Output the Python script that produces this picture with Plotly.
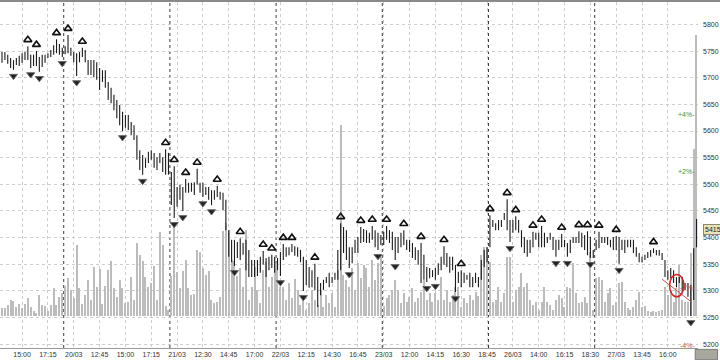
import plotly.graph_objects as go

# ---------------- data ----------------
tick_bars = [7, 16, 25, 34, 43, 52, 61, 70, 79, 88, 97, 106, 115, 124, 133, 142,
             151, 160, 169, 178, 187, 196, 205, 214, 223, 232]
tick_labels = ["15:00", "17:15", "20/03", "12:45", "15:00", "17:15", "21/03", "12:30",
               "14:45", "17:00", "22/03", "12:15", "14:30", "16:45", "23/03", "12:00",
               "14:15", "16:30", "18:45", "26/03", "14:00", "16:15", "18:30", "27/03",
               "13:45", "16:00"]
day_breaks = [21.5, 58.5, 95.5, 132.5, 169.5, 206.5]

highs = [5748, 5748, 5743, 5737, 5733, 5737, 5741, 5746, 5748, 5759,
         5743, 5743, 5750, 5739, 5743, 5743, 5746, 5752, 5761, 5772,
         5763, 5756, 5759, 5780, 5756, 5748, 5746, 5748, 5756, 5752,
         5733, 5733, 5733, 5729, 5718, 5714, 5714, 5692, 5681, 5668,
         5658, 5649, 5636, 5630, 5630, 5617, 5611, 5592, 5564, 5555,
         5549, 5561, 5564, 5559, 5551, 5559, 5551, 5566, 5559, 5523,
         5534, 5495, 5499, 5495, 5510, 5503, 5503, 5504, 5529, 5503,
         5503, 5495, 5495, 5489, 5489, 5497, 5486, 5484, 5471, 5414,
         5396, 5396, 5392, 5399, 5390, 5396, 5377, 5358, 5358, 5358,
         5364, 5375, 5362, 5364, 5368, 5364, 5362, 5373, 5388, 5382,
         5382, 5388, 5384, 5382, 5377, 5364, 5358, 5345, 5339, 5351,
         5326, 5315, 5321, 5326, 5334, 5326, 5334, 5377, 5427, 5420,
         5414, 5382, 5382, 5396, 5401, 5420, 5416, 5414, 5409, 5422,
         5414, 5409, 5405, 5411, 5422, 5414, 5411, 5401, 5401, 5409,
         5414, 5396, 5396, 5390, 5382, 5377, 5390, 5368, 5345, 5343,
         5339, 5343, 5352, 5364, 5384, 5371, 5364, 5364, 5349, 5336,
         5339, 5334, 5330, 5334, 5326, 5334, 5326, 5358, 5377, 5382,
         5442, 5433, 5427, 5433, 5433, 5446, 5472, 5433, 5433, 5440,
         5433, 5414, 5401, 5396, 5396, 5411, 5409, 5409, 5422, 5409,
         5401, 5409, 5401, 5396, 5396, 5407, 5396, 5390, 5396, 5401,
         5401, 5412, 5409, 5405, 5412, 5401, 5377, 5396, 5411, 5401,
         5401, 5401, 5396, 5401, 5403, 5401, 5396, 5396, 5396, 5396,
         5396, 5382, 5371, 5364, 5368, 5373, 5377, 5380, 5377, 5377,
         5371, 5358, 5339, 5343, 5339, 5326, 5326, 5326, 5315, 5315,
         5311, 5380, 5435]

lows = [5728, 5733, 5726, 5718, 5715, 5724, 5722, 5728, 5733, 5733,
        5718, 5722, 5722, 5711, 5720, 5728, 5737, 5739, 5743, 5746,
        5743, 5739, 5744, 5746, 5741, 5729, 5703, 5729, 5739, 5729,
        5705, 5705, 5701, 5696, 5677, 5692, 5681, 5658, 5652, 5639,
        5624, 5611, 5600, 5606, 5602, 5592, 5583, 5546, 5527, 5518,
        5531, 5540, 5546, 5531, 5527, 5540, 5523, 5518, 5518, 5461,
        5437, 5458, 5471, 5450, 5484, 5484, 5486, 5480, 5499, 5484,
        5476, 5480, 5471, 5461, 5471, 5476, 5471, 5452, 5414, 5364,
        5354, 5347, 5362, 5358, 5368, 5339, 5326, 5326, 5326, 5328,
        5334, 5349, 5326, 5339, 5343, 5334, 5339, 5328, 5358, 5364,
        5367, 5373, 5366, 5364, 5354, 5300, 5311, 5306, 5307, 5302,
        5270, 5292, 5302, 5315, 5307, 5315, 5321, 5321, 5339, 5371,
        5358, 5343, 5352, 5371, 5371, 5390, 5392, 5390, 5390, 5396,
        5382, 5377, 5386, 5386, 5396, 5390, 5377, 5358, 5371, 5382,
        5386, 5377, 5373, 5362, 5358, 5349, 5315, 5321, 5317, 5324,
        5326, 5321, 5330, 5339, 5349, 5345, 5334, 5339, 5298, 5315,
        5307, 5315, 5321, 5307, 5307, 5315, 5307, 5321, 5345, 5354,
        5382, 5420, 5414, 5414, 5420, 5433, 5414, 5392, 5409, 5414,
        5409, 5382, 5371, 5364, 5371, 5382, 5396, 5382, 5382, 5382,
        5390, 5396, 5377, 5364, 5377, 5382, 5382, 5364, 5371, 5390,
        5390, 5390, 5382, 5377, 5367, 5362, 5362, 5377, 5380, 5390,
        5390, 5386, 5382, 5377, 5377, 5351, 5377, 5371, 5382, 5382,
        5371, 5364, 5354, 5354, 5358, 5362, 5364, 5371, 5367, 5366,
        5358, 5326, 5321, 5324, 5315, 5307, 5315, 5296, 5302, 5289,
        5253, 5283, 5382]

volume = [8, 8, 11, 16, 15, 9, 12, 8, 12, 18,
          9, 5, 3, 21, 11, 10, 5, 11, 28, 11,
          19, 23, 30, 38, 26, 18, 71, 28, 12, 21,
          36, 16, 49, 29, 47, 12, 30, 46, 55, 28,
          19, 36, 28, 13, 14, 39, 16, 73, 61, 55,
          39, 29, 33, 50, 16, 84, 71, 10, 6, 40,
          90, 44, 28, 45, 56, 28, 21, 22, 66, 64,
          48, 41, 45, 16, 13, 14, 19, 85, 93, 86,
          56, 55, 40, 48, 29, 86, 16, 29, 49, 26,
          13, 46, 54, 29, 39, 53, 53, 29, 29, 16,
          33, 18, 37, 26, 11, 18, 6, 13, 26, 16,
          11, 26, 9, 21, 13, 23, 9, 46, 191, 41,
          36, 29, 48, 26, 53, 38, 51, 48, 29, 56,
          36, 53, 59, 10, 18, 21, 26, 36, 26, 13,
          23, 14, 19, 28, 14, 18, 24, 36, 16, 23,
          14, 23, 16, 39, 16, 26, 14, 21, 29, 29,
          9, 18, 13, 21, 16, 24, 20, 61, 69, 69,
          54, 14, 16, 29, 14, 23, 59, 59, 14, 26,
          29, 43, 29, 33, 16, 11, 14, 6, 14, 29,
          14, 11, 6, 16, 21, 18, 9, 29, 28, 53,
          23, 13, 14, 19, 13, 64, 6, 38, 39, 36,
          14, 23, 28, 11, 14, 33, 34, 14, 8, 6,
          9, 16, 24, 9, 10, 5, 4, 5, 4, 5,
          6, 29, 21, 26, 14, 28, 51, 16, 14, 14,
          63, 167, 281]

up_fractals = [9, 12, 19, 23, 28, 57, 60, 64, 68, 75, 83, 91, 94, 98, 101, 109, 118,
               125, 129, 134, 140, 146, 154, 160, 170, 176, 179, 185, 188, 195, 201,
               204, 208, 214, 227]
down_fractals = [4, 10, 13, 21, 26, 42, 49, 60, 63, 70, 73, 81, 97, 105, 121, 131, 137,
                 148, 151, 158, 177, 193, 197, 205, 215, 240]

last_price = 5415
pct_levels = [4, 2, -2, -4]
price_ticks = list(range(5200, 5801, 50))

# user drawings (trend line and circle) in bar index / price units
trend_line = dict(x0=230, y0=5322, x1=240.3, y1=5279)
circle = dict(x0=232.6, y0=5289, x1=237.6, y1=5331)

assert len(highs) == len(lows) == len(volume) == 243

idx = list(range(len(highs)))
font = "Liberation Sans, Arial, sans-serif"

fig = go.Figure()
fig.add_trace(go.Bar(x=idx, y=volume, yaxis="y", width=0.4,
                     marker=dict(color="#bcbcbc", line=dict(width=0)),
                     showlegend=False, hoverinfo="skip"))
# high-low bars drawn as 1px vertical ranges
fig.add_trace(go.Scatter(x=idx, y=lows, yaxis="y2", mode="markers", showlegend=False,
                         marker=dict(size=1, color="rgba(0,0,0,0)"),
                         error_y=dict(type="data", symmetric=False,
                                      array=[h - l for h, l in zip(highs, lows)],
                                      arrayminus=[0] * len(lows),
                                      thickness=1.1, width=0, color="#1a1a1a")))
off = 12
fig.add_trace(go.Scatter(x=up_fractals, y=[highs[i] + off for i in up_fractals],
                         yaxis="y2", mode="markers", showlegend=False,
                         marker=dict(symbol="triangle-up-open", size=7, color="#111",
                                     line=dict(width=1.6, color="#111"))))
fig.add_trace(go.Scatter(x=down_fractals, y=[lows[i] - off for i in down_fractals],
                         yaxis="y2", mode="markers", showlegend=False,
                         marker=dict(symbol="triangle-down", size=7, color="#222",
                                     line=dict(width=1, color="#666"))))

shapes = []
for d in day_breaks:
    shapes.append(dict(type="line", xref="x", yref="paper", x0=d, x1=d, y0=0, y1=1,
                       line=dict(color="#3a3a3a", width=1, dash="dot"), layer="below"))
shapes.append(dict(type="line", xref="x", yref="y2", **trend_line,
                   line=dict(color="#d05050", width=1)))
shapes.append(dict(type="circle", xref="x", yref="y2", **circle,
                   line=dict(color="#cc2222", width=1.5)))
# top frame line and bottom-right button
shapes.append(dict(type="rect", xref="paper", yref="paper", x0=0, x1=1.04, y0=1.0, y1=1.006,
                   fillcolor="#8a8a8a", line=dict(width=0)))
shapes.append(dict(type="rect", xref="paper", yref="paper", x0=0.996, x1=1.028,
                   y0=-0.034, y1=-0.004, fillcolor="#a8a89e", line=dict(color="#7a7a7a", width=1)))

annotations = [dict(xref="paper", yref="y2", x=1.0, y=last_price, xanchor="left", xshift=5,
                    text=str(last_price), showarrow=False,
                    font=dict(family=font, size=7, color="#222"),
                    bgcolor="#ebe3b4", bordercolor="#8a8a70", borderwidth=1, borderpad=1)]
for p in pct_levels:
    annotations.append(dict(xref="paper", yref="y2", x=1.0, xanchor="right", xshift=-1,
                            y=last_price * (1 + p / 100.0),
                            text=("+%d%%-" % p) if p > 0 else ("%d%%-" % p), showarrow=False,
                            font=dict(family=font, size=7,
                                      color="#4a8a4a" if p > 0 else "#c05050")))

fig.update_layout(
    width=720, height=360,
    margin=dict(l=0, r=22, t=2, b=12),
    paper_bgcolor="white", plot_bgcolor="white",
    bargap=0, barmode="overlay",
    font=dict(family=font, size=7, color="#333"),
    xaxis=dict(range=[-0.7, 242.5], tickmode="array", tickvals=tick_bars, ticktext=tick_labels,
               showgrid=True, gridcolor="#cdcdcd", griddash="dot", gridwidth=1,
               ticks="", zeroline=False, showline=True, linecolor="#9a9a9a",
               tickfont=dict(family=font, size=7, color="#333")),
    yaxis=dict(range=[-32, 314], visible=False, showgrid=False, zeroline=False),
    yaxis2=dict(overlaying="y", side="right", range=[5193, 5842], tickmode="array",
                tickvals=price_ticks, showgrid=True, gridcolor="#cdcdcd", griddash="dot",
                ticks="", zeroline=False, ticklabelstandoff=4,
                tickfont=dict(family=font, size=7, color="#333")),
    shapes=shapes, annotations=annotations,
)

fig.write_html("out.html")
